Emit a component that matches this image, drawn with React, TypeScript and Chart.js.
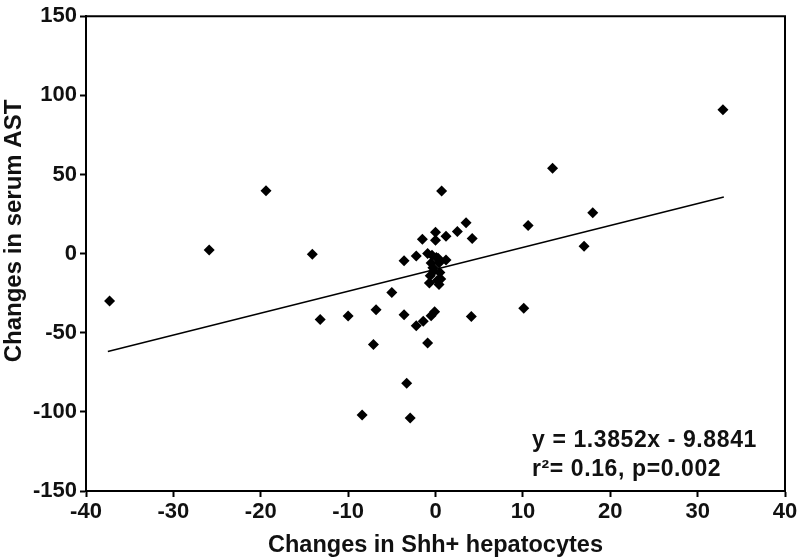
import React, { useEffect, useRef } from "react";
import { Chart, registerables } from "chart.js";

Chart.register(...registerables);

// Scatter data: changes in Shh+ hepatocytes (x) vs changes in serum AST (y)
const xValues: number[] = [
  -37.3, -25.9, -19.4, -14.1, -13.2, -10.0, -8.4, -7.1, -6.8, -5.0,
  -3.6, -3.3, -2.9, -2.2, -1.4, -0.5, -0.1, -0.9, 4.1, 10.1,
  10.6, 13.4, 17.0, 18.0, 32.9,
  0.7, 3.5, 2.5, 4.2, 1.2, 0.0, 0.0, -1.5, -3.6, -2.2,
  -0.9, 0.1, 1.2, -0.5, 0.4, -0.3, 0.5, -0.6, 0.2, -0.7,
  0.4, 0.3, -0.2, 0.6, -0.4,
];
const yValues: number[] = [
  -30, 2.3, 39.7, -0.4, -41.6, -39.5, -102, -57.5, -35.5, -24.6,
  -38.6, -81.9, -103.8, -45.6, -42.8, -39.3, -36.7, -56.5, -39.7, -34.5,
  17.8, 54, 4.6, 25.8, 90.9,
  39.5, 19.5, 14, 9.5, 11, 13.5, 8.5, 9, -4.5, -1.5,
  0, -2.5, -4, -6, -6, -9, -12, -14, -17, -18.5,
  -19.5, -3, -11, -16, -1,
];

// Regression line endpoints: y = 1.3852x - 9.8841
const fitX: number[] = [-37.5, 33];
const fitY: number[] = [-61.8, 35.8];

const xTicks: number[] = [-40, -30, -20, -10, 0, 10, 20, 30, 40];
const yTicks: number[] = [-150, -100, -50, 0, 50, 100, 150];

const xTitle = "Changes in Shh+ hepatocytes";
const yTitle = "Changes in serum AST";
const eqLine1 = "y = 1.3852x - 9.8841";
const eqLine2 = "r²= 0.16, p=0.002";

const FONT = "'Liberation Sans', Arial, sans-serif";

export default function App() {
  const canvasRef = useRef<HTMLCanvasElement | null>(null);

  useEffect(() => {
    document.body.style.margin = "0";
    const canvas = canvasRef.current;
    if (!canvas) return;

    const decor = {
      id: "decor",
      afterDraw(chart: any) {
        const { ctx, chartArea } = chart;
        ctx.save();
        // frame top and right
        ctx.strokeStyle = "#000";
        ctx.lineWidth = 2;
        ctx.beginPath();
        ctx.moveTo(chartArea.left, chartArea.top);
        ctx.lineTo(chartArea.right, chartArea.top);
        ctx.lineTo(chartArea.right, chartArea.bottom);
        ctx.stroke();

        ctx.fillStyle = "#111";
        ctx.textBaseline = "middle";
        // x title
        ctx.font = `bold 23.5px ${FONT}`;
        ctx.textAlign = "center";
        ctx.fillText(xTitle, (chartArea.left + chartArea.right) / 2, 546);
        // y title
        ctx.font = `bold 24px ${FONT}`;
        ctx.save();
        ctx.translate(14, 231);
        ctx.rotate(-Math.PI / 2);
        ctx.fillText(yTitle, 0, 0);
        ctx.restore();
        // equation
        ctx.font = `bold 23px ${FONT}`;
        try {
          (ctx as any).letterSpacing = "0.6px";
        } catch (e) {}
        ctx.textAlign = "left";
        ctx.fillText(eqLine1, 532, 441);
        ctx.fillText(eqLine2, 532, 470);
        ctx.restore();
      },
    };

    const chart = new Chart(canvas, {
      type: "scatter",
      data: {
        datasets: [
          {
            type: "scatter",
            data: xValues.map((x, i) => ({ x, y: yValues[i] })),
            pointStyle: "rectRot",
            pointRadius: 5.5,
            backgroundColor: "#000",
            borderColor: "#000",
            borderWidth: 0,
          },
          {
            type: "line",
            data: fitX.map((x, i) => ({ x, y: fitY[i] })),
            borderColor: "#000",
            borderWidth: 1.5,
            pointRadius: 0,
            fill: false,
          },
        ] as any,
      },
      options: {
        animation: false,
        responsive: false,
        layout: { padding: { top: 15, right: 15, left: 0, bottom: 0 } },
        plugins: { legend: { display: false }, tooltip: { enabled: false } },
        scales: {
          x: {
            type: "linear",
            min: -40,
            max: 40,
            afterBuildTicks: (s: any) => {
              s.ticks = xTicks.map((v) => ({ value: v }));
            },
            afterFit: (s: any) => {
              s.height = 69;
            },
            grid: {
              drawOnChartArea: false,
              drawTicks: true,
              tickLength: 6,
              tickWidth: 2,
              color: "#000",
            },
            border: { display: true, color: "#000", width: 2 },
            ticks: {
              color: "#111",
              padding: 2,
              maxRotation: 0,
              font: { family: FONT, size: 22, weight: "bold" },
            },
          },
          y: {
            type: "linear",
            min: -150,
            max: 150,
            afterBuildTicks: (s: any) => {
              s.ticks = yTicks.map((v) => ({ value: v }));
            },
            afterFit: (s: any) => {
              s.width = 86;
            },
            grid: {
              drawOnChartArea: false,
              drawTicks: true,
              tickLength: 6,
              tickWidth: 2,
              color: "#000",
            },
            border: { display: true, color: "#000", width: 2 },
            ticks: {
              color: "#111",
              padding: 3,
              font: { family: FONT, size: 22, weight: "bold" },
            },
          },
        },
      },
      plugins: [decor],
    } as any);

    return () => chart.destroy();
  }, []);

  return (
    <div style={{ position: "absolute", left: 0, top: 0, width: 800, height: 560, background: "#fff" }}>
      <canvas ref={canvasRef} width={800} height={560} style={{ width: 800, height: 560 }} />
    </div>
  );
}
